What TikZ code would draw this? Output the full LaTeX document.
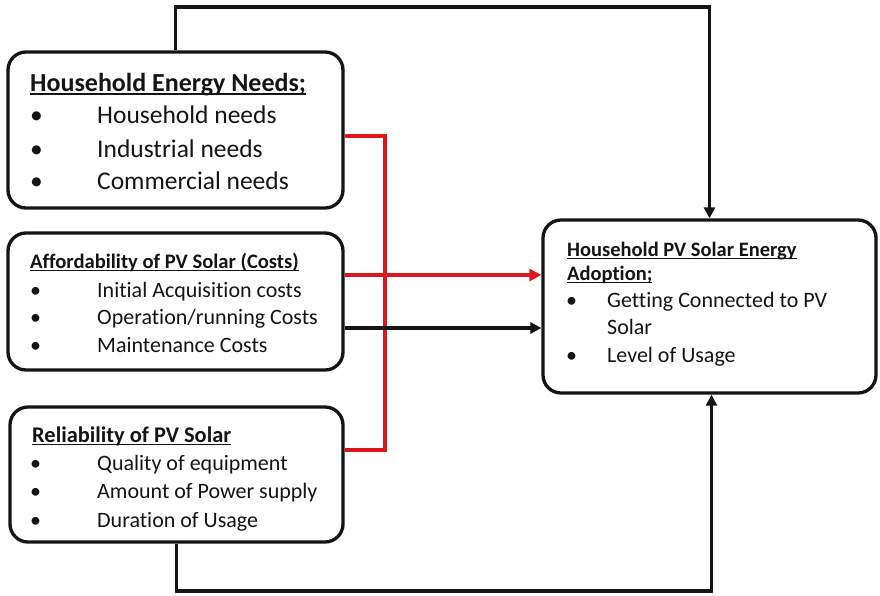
\documentclass[tikz,border=0pt]{standalone}
\usepackage{fontspec}
\setmainfont{Carlito}[Ligatures={NoCommon}]
\usetikzlibrary{arrows.meta}
\definecolor{linkred}{RGB}{222,22,28}
\definecolor{inkblack}{RGB}{20,20,20}
% underline that sits just under the baseline, crossing descenders
\newcommand\ulbar[2]{\setbox0\hbox{#2}\rlap{\rule[-#1]{\wd0}{1.4pt}}\box0}
\begin{document}
\begin{tikzpicture}[x=1pt,y=-1pt,
  box/.style={draw=inkblack, line width=3.3pt, rounded corners=18pt, inner sep=0pt},
  conn/.style={draw=inkblack, line width=3.5pt},
  redconn/.style={draw=linkred, line width=4.5pt},
  tip/.style={-{Triangle[length=11pt,width=11pt]}},
  redtip/.style={-{Triangle[length=12pt,width=12pt]}},
  ln/.style={anchor=base west, inner sep=0pt, text=inkblack},
  big/.style={font=\fontsize{25.5}{30}\selectfont},
  mid/.style={font=\fontsize{22}{26}\selectfont},
]
\useasboundingbox (0,0) rectangle (880,595);

% boxes
\node[box, minimum width=335pt, minimum height=156pt] (needs)  at (175.5,130)   {};
\node[box, minimum width=335pt, minimum height=137pt] (afford) at (175.5,301.5) {};
\node[box, minimum width=333pt, minimum height=135pt] (rel)    at (176.5,474.5) {};
\node[box, minimum width=333pt, minimum height=173pt] (adopt)  at (709.5,306.5) {};

% household energy needs
\node[ln, font=\fontsize{26}{30}\selectfont] (t1) at (30,91) {\bfseries\ulbar{3.5pt}{Household Energy Needs;}};
\node[ln, big] (b11) at (30,123) {\textbullet};
\node[ln, big] (i11) at (97,123) {Household needs};
\node[ln, big] (b12) at (30,157) {\textbullet};
\node[ln, big] (i12) at (97,157) {Industrial needs};
\node[ln, big] (b13) at (30,189) {\textbullet};
\node[ln, big] (i13) at (97,189) {Commercial needs};

% affordability
\node[ln, font=\fontsize{20.6}{25}\selectfont] (t2) at (30,268) {\bfseries\ulbar{3pt}{Affordability of PV Solar (Costs)}};
\node[ln, mid] (b21) at (30,297) {\textbullet};
\node[ln, mid] (i21) at (97,297) {Initial Acquisition costs};
\node[ln, mid] (b22) at (30,324) {\textbullet};
\node[ln, mid] (i22) at (97,324) {Operation/running Costs};
\node[ln, mid] (b23) at (30,352) {\textbullet};
\node[ln, mid] (i23) at (97,352) {Maintenance Costs};

% reliability
\node[ln, font=\fontsize{22.4}{26}\selectfont] (t3) at (32,442) {\bfseries\ulbar{3pt}{Reliability of PV Solar}};
\node[ln, mid] (b31) at (30,470) {\textbullet};
\node[ln, mid] (i31) at (97,470) {Quality of equipment};
\node[ln, mid] (b32) at (30,498) {\textbullet};
\node[ln, mid] (i32) at (97,498) {Amount of Power supply};
\node[ln, mid] (b33) at (30,527) {\textbullet};
\node[ln, mid] (i33) at (97,527) {Duration of Usage};

% adoption
\node[ln, font=\fontsize{20.5}{25}\selectfont] (t4a) at (567,256) {\bfseries\ulbar{3pt}{Household PV Solar Energy}};
\node[ln, font=\fontsize{20.5}{25}\selectfont] (t4b) at (567,280) {\bfseries\ulbar{3pt}{Adoption;}};
\node[ln, mid] (b41) at (566,307) {\textbullet};
\node[ln, mid] (i41) at (607,307) {Getting Connected to PV};
\node[ln, mid] (i41b) at (607,334) {Solar};
\node[ln, mid] (b42) at (566,362) {\textbullet};
\node[ln, mid] (i42) at (607,362) {Level of Usage};

% connector routing points
\coordinate (topY) at (0,7);
\coordinate (botY) at (0,591);
\coordinate (busTop) at (385,136);
\coordinate (busBot) at (385,450);

% black feedback lines over the top and under the bottom
\draw[conn, tip] (needs.north) -- (needs.north |- topY) -| (adopt.north);
\draw[conn, tip] (rel.south) -- (rel.south |- botY) -| ([xshift=2pt]adopt.south);

% red bus joining the three factor boxes
\draw[redconn, line join=miter] (needs.east |- busTop) -- (busTop) -- (busBot) -- (rel.east |- busBot);
\draw[redconn, redtip] ([yshift=26.5pt]afford.east) -- ([yshift=26.5pt]afford.east -| adopt.west);

% black direct link
\draw[conn, tip] ([yshift=-26.5pt]afford.east) -- ([yshift=-26.5pt]afford.east -| adopt.west);
\end{tikzpicture}
\end{document}
